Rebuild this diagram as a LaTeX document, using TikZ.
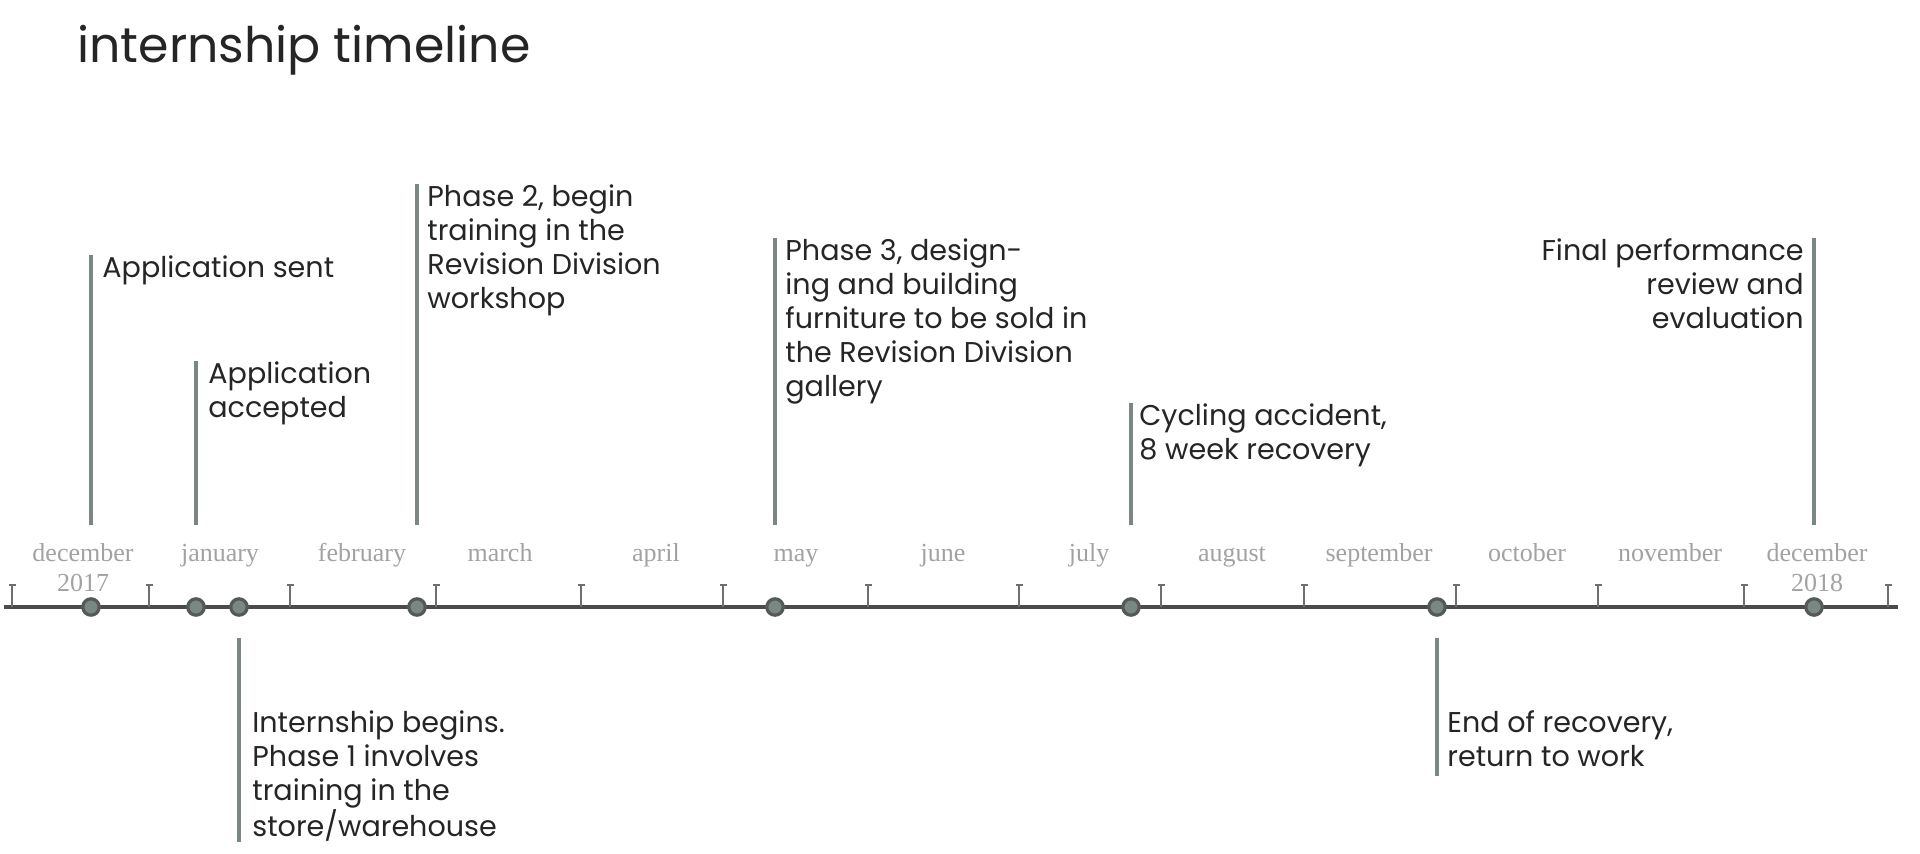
\documentclass[tikz,border=0pt]{standalone}
\usepackage{fontspec}
\setmainfont{Poppins}
\newfontfamily\monthfont{Liberation Serif}
\usetikzlibrary{arrows.meta,positioning,calc}

\definecolor{barcol}{HTML}{7A8782}
\definecolor{axiscol}{HTML}{4B4B4B}
\definecolor{tickcol}{HTML}{6E6E6E}
\definecolor{dotedge}{HTML}{555A58}
\definecolor{monthcol}{HTML}{A2A2A2}
\definecolor{txtcol}{HTML}{252525}

\begin{document}
\begin{tikzpicture}[
  x=0.5pt, y=-0.5pt,
  evt/.style={inner sep=0pt, align=left, text=txtcol, font=\fontsize{14.3}{17}\selectfont},
  evr/.style={evt, align=right},
  mon/.style={inner sep=0pt, anchor=base, text=monthcol, font=\monthfont\fontsize{13}{15}\selectfont},
  dot/.style={circle, draw=dotedge, fill=barcol, line width=1.6pt, minimum size=8.2pt, inner sep=0pt},
  bar/.style={draw=barcol, line width=1.8pt},
  tick/.style={draw=tickcol, line width=0.8pt, -{Bar[width=3.5pt,line width=0.8pt]}}
]
\useasboundingbox (0,0) rectangle (1920,853);

\node[anchor=base west, inner sep=0pt, text=txtcol, font=\fontsize{24.5}{30}\selectfont] (title) at (77,62) {internship timeline};

% axis and month ticks
\coordinate (axL) at (4,607);
\coordinate (axR) at (1898,607);
\draw[axiscol, line width=2pt] (axL) -- (axR);
\foreach \tx in {12,149,290,436,581,723,868,1019,1161,1304,1456,1598,1744,1888}
  \draw[tick] (\tx,607) -- (\tx,584);

\node[mon] (mDec) at (83,561) {december};
\node[mon] (yr17) at (83,591) {2017};
\node[mon] (mJan) at (220,561) {january};
\node[mon] (mFeb) at (362,561) {february};
\node[mon] (mMar) at (500,561) {march};
\node[mon] (mApr) at (656,561) {april};
\node[mon] (mMay) at (796,561) {may};
\node[mon] (mJun) at (943,561) {june};
\node[mon] (mJul) at (1089,561) {july};
\node[mon] (mAug) at (1232,561) {august};
\node[mon] (mSep) at (1379,561) {september};
\node[mon] (mOct) at (1527,561) {october};
\node[mon] (mNov) at (1670,561) {november};
\node[mon] (mDecB) at (1817,561) {december};
\node[mon] (yr18) at (1817,591) {2018};

% events
\node[dot] (dSent) at (91,607) {};
\node[dot] (dAcc) at (196,607) {};
\node[dot] (dBegin) at (239,607) {};
\node[dot] (dPh2) at (417,607) {};
\node[dot] (dPh3) at (775,607) {};
\node[dot] (dCrash) at (1131,607) {};
\node[dot] (dBack) at (1437,607) {};
\node[dot] (dFinal) at (1814,607) {};

\node[evt, anchor=north west] (tSent) at (102,255) {Application sent};
\node[evt, anchor=north west] (tAcc) at (208,361) {Application\\accepted};
\node[evt, anchor=north west] (tPh2) at (427,184) {Phase 2, begin\\training in the\\Revision Division\\workshop};
\node[evt, anchor=north west] (tPh3) at (785,238) {Phase 3, design-\\ing and building\\furniture to be sold in\\the Revision Division\\gallery};
\node[evt, anchor=north west] (tCrash) at (1139,403) {Cycling accident,\\8 week recovery};
\node[evr, anchor=north east] (tFinal) at (1804,238) {Final performance\\review and\\evaluation};
\node[evt, anchor=north west] (tBegin) at (252,710) {Internship begins.\\Phase 1 involves\\training in the\\store/warehouse};
\node[evt, anchor=north west] (tBack) at (1447,710) {End of recovery,\\return to work};

\draw[bar] (dSent |- tSent.north) -- (dSent |- 0,525);
\draw[bar] (dAcc |- tAcc.north) -- (dAcc |- 0,525);
\draw[bar] (dPh2 |- tPh2.north) -- (dPh2 |- 0,525);
\draw[bar] (dPh3 |- tPh3.north) -- (dPh3 |- 0,525);
\draw[bar] (dCrash |- tCrash.north) -- (dCrash |- 0,525);
\draw[bar] (dFinal |- tFinal.north) -- (dFinal |- 0,525);
\draw[bar] (dBegin |- 0,638) -- (dBegin |- 0,842);
\draw[bar] (dBack |- 0,638) -- (dBack |- 0,776);
\end{tikzpicture}
\end{document}
